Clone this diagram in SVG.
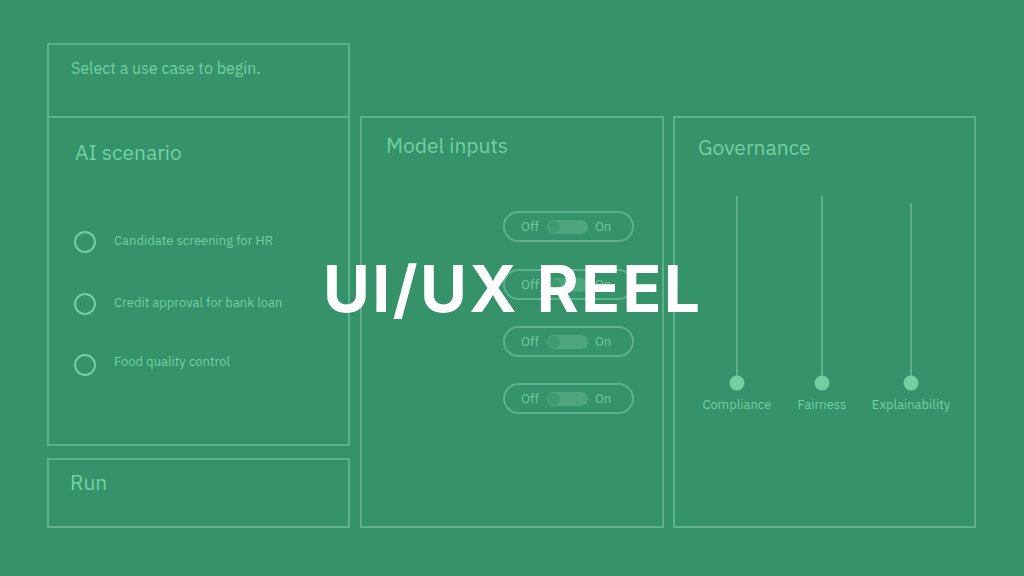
<svg xmlns="http://www.w3.org/2000/svg" width="1024" height="576" viewBox="0 0 1024 576">
<style>
.panel{fill:none;stroke:#5cb28c;stroke-width:2}
.t{font-family:"IBM Plex Sans","Roboto","Liberation Sans",sans-serif;fill:#72cfa2}
.h{font-size:21px}
.s{font-size:13px}
.pill{fill:none;stroke:#5cb28c;stroke-width:2}
.track{fill:#4ea67f}
.knob{fill:#3f9a72}
.tog{font-family:"Roboto","Liberation Sans",sans-serif;font-size:13px;fill:#6cc69b}
.radio{fill:none;stroke:#72cfa2;stroke-width:2}
.rail{stroke:#5cb28c;stroke-width:2}
.dot{fill:#72cfa2}
</style>
<rect width="1024" height="576" fill="#35926b"/>
<g id="select-box">
<rect class="panel" x="48" y="44" width="301" height="73"/>
<text class="t" x="71" y="74" font-size="16">Select a use case to begin.</text>
</g>
<g id="ai-scenario">
<rect class="panel" x="48" y="117" width="301" height="328"/>
<text class="t h" x="75" y="160">AI scenario</text>
<circle class="radio" cx="85" cy="242" r="10"/>
<text class="t s" x="114" y="245">Candidate screening for HR</text>
<circle class="radio" cx="85" cy="304" r="10"/>
<text class="t s" x="114" y="307">Credit approval for bank loan</text>
<circle class="radio" cx="85" cy="365" r="10"/>
<text class="t s" x="114" y="366">Food quality control</text>
</g>
<g id="run">
<rect class="panel" x="48" y="459" width="301" height="68"/>
<text class="t h" x="70" y="490">Run</text>
</g>
<g id="model-inputs">
<rect class="panel" x="361" y="117" width="302" height="410"/>
<text class="t h" x="386" y="153">Model inputs</text>
<g id="toggle1">
<rect class="pill" x="504" y="212" width="129" height="29" rx="14.5"/>
<text class="tog" x="521" y="231">Off</text>
<rect class="track" x="547" y="220" width="41" height="14" rx="7"/>
<circle class="knob" cx="554" cy="227" r="6"/>
<text class="tog" x="595" y="231">On</text>
</g>
<g id="toggle2">
<rect class="pill" x="504" y="270" width="129" height="29" rx="14.5"/>
<text class="tog" x="521" y="289">Off</text>
<rect class="track" x="547" y="278" width="41" height="14" rx="7"/>
<circle class="knob" cx="554" cy="285" r="6"/>
<text class="tog" x="595" y="289">On</text>
</g>
<g id="toggle3">
<rect class="pill" x="504" y="327" width="129" height="29" rx="14.5"/>
<text class="tog" x="521" y="346">Off</text>
<rect class="track" x="547" y="335" width="41" height="14" rx="7"/>
<circle class="knob" cx="554" cy="342" r="6"/>
<text class="tog" x="595" y="346">On</text>
</g>
<g id="toggle4">
<rect class="pill" x="504" y="384" width="129" height="29" rx="14.5"/>
<text class="tog" x="521" y="403">Off</text>
<rect class="track" x="547" y="392" width="41" height="14" rx="7"/>
<circle class="knob" cx="554" cy="399" r="6"/>
<text class="tog" x="595" y="403">On</text>
</g>
</g>
<g id="governance">
<rect class="panel" x="674" y="117" width="301" height="410"/>
<text class="t h" x="698" y="155">Governance</text>
<line class="rail" x1="737" y1="196" x2="737" y2="380"/>
<circle class="dot" cx="737" cy="383" r="7.5"/>
<text class="t s" x="737" y="409" text-anchor="middle">Compliance</text>
<line class="rail" x1="822" y1="196" x2="822" y2="380"/>
<circle class="dot" cx="822" cy="383" r="7.5"/>
<text class="t s" x="822" y="409" text-anchor="middle">Fairness</text>
<line class="rail" x1="911" y1="203" x2="911" y2="380"/>
<circle class="dot" cx="911" cy="383" r="7.5"/>
<text class="t s" x="911" y="409" text-anchor="middle">Explainability</text>
</g>
<g id="title">
<text x="323" y="312" textLength="377" lengthAdjust="spacing" font-family="Inter,'Open Sans','Liberation Sans',sans-serif" font-weight="700" font-size="64" fill="#ffffff">UI/UX REEL</text>
</g>
</svg>
